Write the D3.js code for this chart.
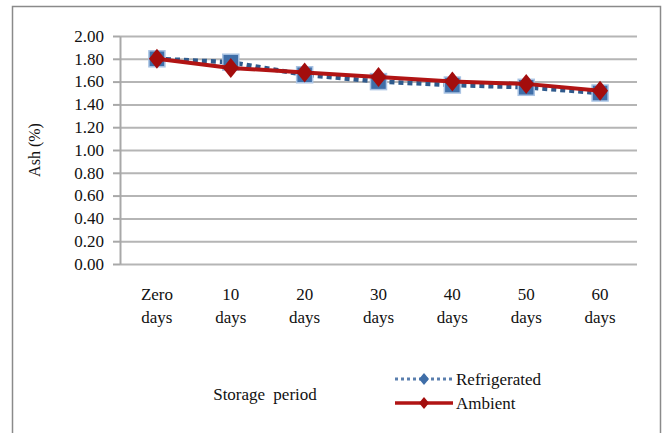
<!DOCTYPE html>
<html>
<head>
<meta charset="utf-8">
</head>
<body style="margin:0; background:#fff">
<svg id="graph_obj" width="662" height="433" font-family="Liberation Serif" font-size="17"></svg>
<script src="https://d3js.org/d3.v7.min.js"></script>
<script>

// data
let categories = ["Zero days", "10 days", "20 days", "30 days", "40 days", "50 days", "60 days"];
let refrigerated = [1.80, 1.77, 1.66, 1.60, 1.57, 1.55, 1.50];
let ambient = [1.80, 1.72, 1.68, 1.64, 1.60, 1.58, 1.52];
let y_ticks = [0, 0.2, 0.4, 0.6, 0.8, 1.0, 1.2, 1.4, 1.6, 1.8, 2.0];
let series_names = ["Refrigerated", "Ambient"];

let plot = {left: 120, right: 637, top: 36, bottom: 264};

let svg = d3.select("#graph_obj");

// outer frame
svg.append("rect")
  .attr("x", 12.5).attr("y", 6.5)
  .attr("width", 648).attr("height", 440)
  .attr("fill", "none")
  .attr("stroke", "#8a8a8a")
  .attr("stroke-width", 1.5);

let x = d3.scalePoint()
  .domain(categories)
  .range([plot.left, plot.right])
  .padding(0.5);

let y = d3.scaleLinear()
  .domain([0, 2])
  .range([plot.bottom, plot.top]);

// gridlines
let grid = svg.append("g")
  .attr("transform", "translate(" + plot.left + ",0)")
  .call(d3.axisLeft(y).tickValues(y_ticks).tickSize(-(plot.right - plot.left)).tickFormat(""));
grid.select(".domain").remove();
grid.selectAll("line").attr("stroke", "#b5b5b5").attr("stroke-width", 2);

// y axis line and ticks; labels drawn separately in serif
let y_axis = svg.append("g")
  .attr("transform", "translate(" + plot.left + ",0)")
  .call(d3.axisLeft(y).tickValues(y_ticks).tickFormat("").tickSize(7).tickSizeOuter(0));
y_axis.select(".domain").attr("stroke", "#a8a8a8").attr("stroke-width", 2);
y_axis.selectAll("line").attr("stroke", "#a8a8a8").attr("stroke-width", 2);
y_axis.selectAll("text").remove();

svg.append("g")
  .selectAll("text")
  .data(y_ticks)
  .enter()
  .append("text")
    .attr("x", plot.left - 16)
    .attr("y", function(d) { return y(d); })
    .attr("dy", "0.34em")
    .attr("text-anchor", "end")
    .attr("font-family", "Liberation Serif")
    .attr("font-size", 17)
    .attr("fill", "#111")
    .text(d3.format(".2f"));

// x category labels, wrapped onto two lines
let x_labels = svg.append("g")
  .selectAll("text")
  .data(categories)
  .enter()
  .append("text")
    .attr("x", function(d) { return x(d); })
    .attr("y", 300)
    .attr("text-anchor", "middle")
    .attr("font-family", "Liberation Serif")
    .attr("font-size", 17)
    .attr("fill", "#111");
x_labels.selectAll("tspan")
  .data(function(d) { return d.split(" "); })
  .enter()
  .append("tspan")
    .attr("x", function() { return d3.select(this.parentNode).attr("x"); })
    .attr("dy", function(d, i) { return i === 0 ? 0 : 23; })
    .text(function(d) { return d; });

// axis titles
svg.append("text")
  .attr("transform", "translate(40," + ((plot.top + plot.bottom) / 2) + ") rotate(-90)")
  .attr("text-anchor", "middle")
  .attr("font-family", "Liberation Serif")
  .attr("font-size", 16)
  .attr("fill", "#111")
  .text("Ash (%)");

svg.append("text")
  .attr("x", 265).attr("y", 400)
  .attr("text-anchor", "middle")
  .attr("font-family", "Liberation Serif")
  .attr("font-size", 17)
  .attr("fill", "#111")
  .attr("word-spacing", 4)
  .text("Storage period");

let line = d3.line()
  .x(function(d, i) { return x(categories[i]); })
  .y(function(d) { return y(d); });

// refrigerated: dotted blue line with squares
svg.append("path")
  .datum(refrigerated)
  .attr("d", line)
  .attr("fill", "none")
  .attr("stroke", "#2f5a8c")
  .attr("stroke-width", 4.5)
  .attr("stroke-dasharray", "5,4");

svg.append("g")
  .selectAll("rect")
  .data(refrigerated)
  .enter()
  .append("rect")
    .attr("x", function(d, i) { return x(categories[i]) - 8; })
    .attr("y", function(d) { return y(d) - 8; })
    .attr("width", 16)
    .attr("height", 16)
    .attr("fill", "#3f6ea8")
    .attr("stroke", "#a9c3e3")
    .attr("stroke-width", 1.5);

// ambient: solid red line with diamonds
svg.append("path")
  .datum(ambient)
  .attr("d", line)
  .attr("fill", "none")
  .attr("stroke", "#b11414")
  .attr("stroke-width", 4);

let diamond = "M0,-10L8,0L0,10L-8,0Z";
svg.append("g")
  .selectAll("path")
  .data(ambient)
  .enter()
  .append("path")
    .attr("transform", function(d, i) { return "translate(" + x(categories[i]) + "," + y(d) + ")"; })
    .attr("d", diamond)
    .attr("fill", "#a30d0d");

// legend
let legend_rows = svg.append("g")
  .selectAll("g")
  .data(series_names)
  .enter()
  .append("g")
    .attr("transform", function(d, i) { return "translate(395," + (379 + i * 24) + ")"; });

legend_rows.append("line")
  .attr("x1", 0).attr("x2", 58)
  .attr("stroke", function(d, i) { return i === 0 ? "#5a7fae" : "#b11414"; })
  .attr("stroke-width", function(d, i) { return i === 0 ? 3 : 3.5; })
  .attr("stroke-dasharray", function(d, i) { return i === 0 ? "3,3" : null; });

legend_rows.append("path")
  .attr("transform", "translate(29,0)")
  .attr("d", "M0,-6L5,0L0,6L-5,0Z")
  .attr("fill", function(d, i) { return i === 0 ? "#3f6ea8" : "#a30d0d"; });

legend_rows.append("text")
  .attr("x", 61)
  .attr("y", 6)
  .attr("font-family", "Liberation Serif")
  .attr("font-size", 17)
  .attr("fill", "#111")
  .text(function(d) { return d; });

</script>
</body>
</html>
